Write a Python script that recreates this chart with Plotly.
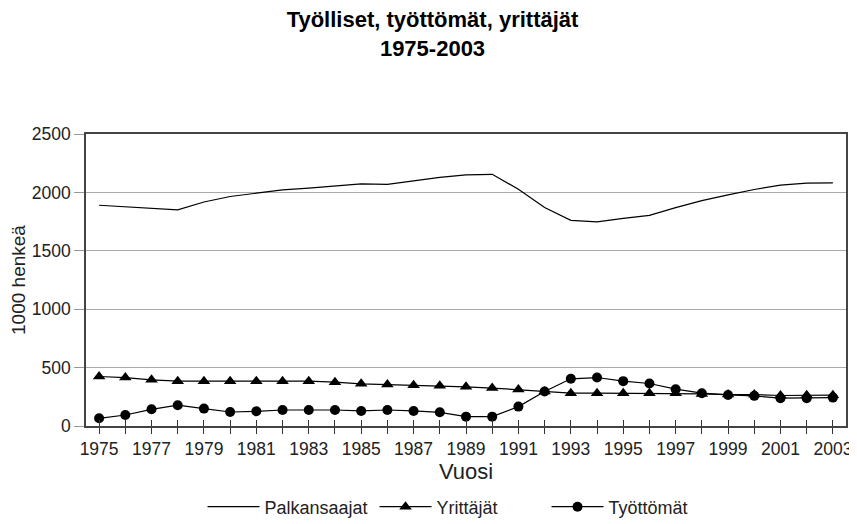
import plotly.graph_objects as go

years = list(range(1975, 2004))
palkansaajat = [1890, 1875, 1864, 1850, 1918, 1965, 1993, 2021, 2036, 2056, 2073, 2068, 2099, 2128, 2150,
                2155, 2027, 1870, 1761, 1747, 1778, 1804, 1870, 1930, 1979, 2025, 2062, 2079, 2082]
yrittajat = [424, 415, 395, 384, 384, 384, 384, 384, 384, 375, 361, 355, 349, 344, 335,
             325, 312, 295, 281, 281, 281, 281, 281, 275, 269, 269, 261, 264, 264]
tyottomat = [66, 94, 143, 178, 149, 120, 126, 137, 137, 137, 129, 137, 129, 117, 80,
             80, 166, 295, 404, 415, 384, 364, 315, 281, 266, 258, 238, 238, 243]
x_ticktext = [str(y) if (y - 1975) % 2 == 0 else "" for y in years]
y_ticks = [0, 500, 1000, 1500, 2000, 2500]

FONT = "Liberation Sans, Arial, sans-serif"

fig = go.Figure()
fig.add_trace(go.Scatter(x=years, y=palkansaajat, name="Palkansaajat", mode="lines",
                         line=dict(color="black", width=1.2)))
fig.add_trace(go.Scatter(x=years, y=yrittajat, name="Yrittäjät", mode="lines+markers",
                         line=dict(color="black", width=1.2),
                         marker=dict(symbol="triangle-up", size=11, color="black")))
fig.add_trace(go.Scatter(x=years, y=tyottomat, name="Työttömät", mode="lines+markers",
                         line=dict(color="black", width=1.2),
                         marker=dict(symbol="circle", size=10, color="black")))
# invisible trace on second x axis so inner ticks are drawn
fig.add_trace(go.Scatter(x=[years[0]], y=[0], xaxis="x2", mode="markers",
                         marker=dict(opacity=0), showlegend=False, hoverinfo="skip"))

# page body has an 8px default margin; the figure is sized/offset to compensate
fig.update_layout(
    width=849, height=516,
    margin=dict(l=78, r=11, t=126, b=98, autoexpand=False),
    paper_bgcolor="white", plot_bgcolor="white",
    font=dict(family=FONT, color="#222", size=17),
    title=dict(text="<b>Työlliset, työttömät, yrittäjät<br>1975-2003</b>",
               x=0.5, xanchor="center", y=0.963, yanchor="middle",
               font=dict(family=FONT, size=22, color="black")),
    xaxis=dict(range=[1974.5, 2003.5], tickvals=years, ticktext=x_ticktext,
               ticks="outside", ticklen=6, tickcolor="#333", tickwidth=1,
               showline=True, linecolor="#444", linewidth=1.5, mirror=True,
               showgrid=False, zeroline=False, automargin=False,
               tickfont=dict(size=17.5, color="#222"),
               title=dict(text="Vuosi", font=dict(size=22, color="#222"), standoff=4)),
    xaxis2=dict(range=[1974.5, 2003.5], overlaying="x", side="bottom",
                tickvals=years, ticks="inside", ticklen=6, tickcolor="#333",
                showticklabels=False, showgrid=False, zeroline=False, showline=False),
    yaxis=dict(range=[0, 2500], tickvals=y_ticks,
               ticks="outside", ticklen=10, tickcolor="#999",
               showline=True, linecolor="#444", linewidth=1.5, mirror=True,
               showgrid=True, gridcolor="#aaa", gridwidth=1, zeroline=False, automargin=False,
               tickfont=dict(size=17.5, color="#222"),
               title=dict(text="1000 henkeä", font=dict(size=19, color="#222"), standoff=8)),
    legend=dict(orientation="h", xref="container", yref="container",
                x=0.533, xanchor="center", y=0.033, yanchor="middle",
                font=dict(size=18, color="#222"), entrywidth=105, itemwidth=52),
    showlegend=True,
)

fig.write_html("out.html")
